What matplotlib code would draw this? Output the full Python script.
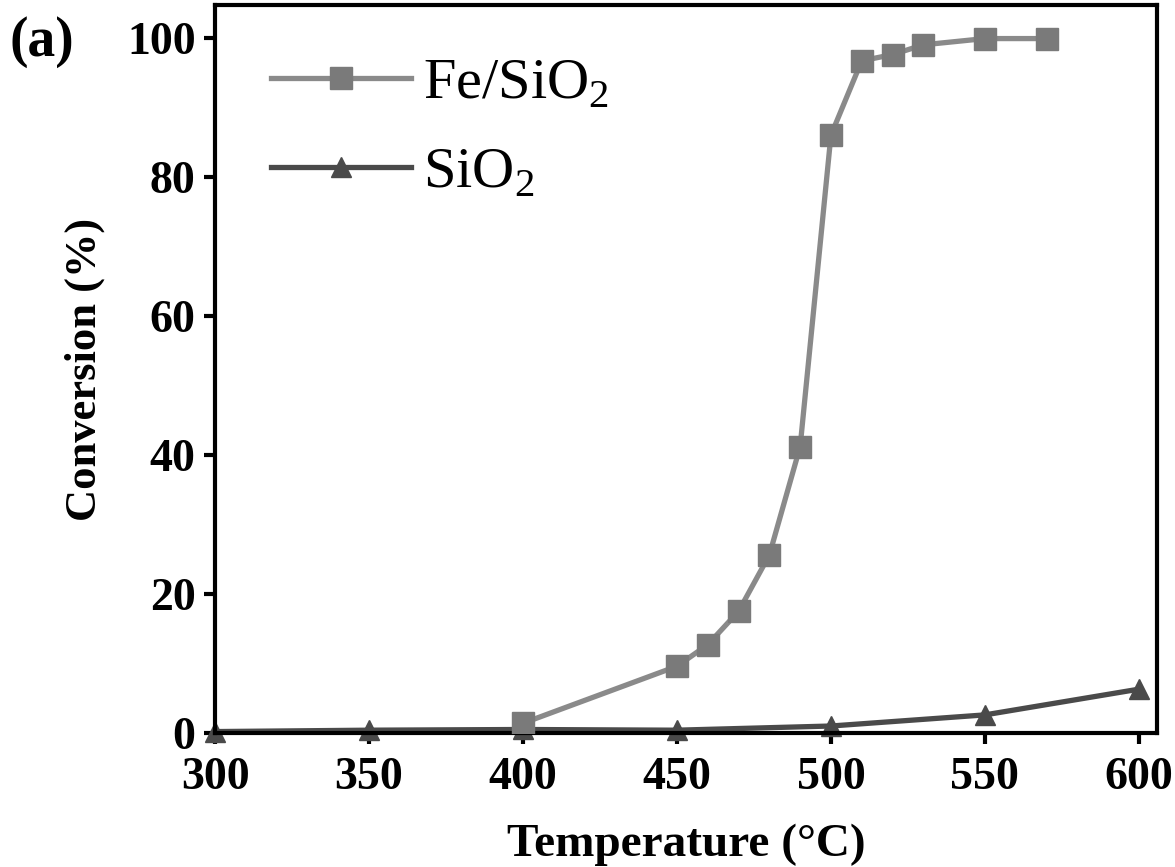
import numpy as np
import matplotlib
matplotlib.use("Agg")
import matplotlib.pyplot as plt

# data
temp_fe = [400, 450, 460, 470, 480, 490, 500, 510, 520, 530, 550, 570]
conv_fe = [1.4, 9.6, 12.7, 17.5, 25.6, 41.2, 86.0, 96.7, 97.6, 99.0, 99.9, 99.9]

temp_si = [300, 350, 400, 450, 500, 550, 600]
conv_si = [0.2, 0.4, 0.5, 0.4, 1.0, 2.6, 6.3]

x_ticks = [300, 350, 400, 450, 500, 550, 600]
y_ticks = [0, 20, 40, 60, 80, 100]

plt.rcParams['font.family'] = ['Liberation Serif', 'DejaVu Serif']
plt.rcParams['mathtext.fontset'] = 'custom'
plt.rcParams['mathtext.rm'] = 'Liberation Serif'

fig = plt.figure(figsize=(11.75, 8.67), dpi=100)
ax = fig.add_axes([0.183, 0.1546, 0.802, 0.8394])

ax.plot(temp_fe, conv_fe, color='#8a8a8a', lw=3.8, marker='s', ms=16,
        mfc='#7a7a7a', mec='#7a7a7a', label='Fe/SiO$_2$', zorder=3)
ax.plot(temp_si, conv_si, color='#4a4a4a', lw=3.8, marker='^', ms=15,
        mfc='#4a4a4a', mec='#4a4a4a', label='SiO$_2$', zorder=2, clip_on=False)

ax.set_xlim(300, 606)
ax.set_ylim(0, 104.7)
ax.set_xticks(x_ticks)
ax.set_yticks(y_ticks)

for s in ax.spines.values():
    s.set_linewidth(3)
ax.tick_params(direction='out', length=8, width=3, labelsize=33)
ax.tick_params(axis='x', pad=9)
ax.tick_params(axis='y', pad=6)
for lab in ax.get_xticklabels() + ax.get_yticklabels():
    lab.set_fontweight('bold')

ax.set_xlabel('Temperature (°C)', fontsize=34, fontweight='bold', labelpad=18)
ax.set_ylabel('Conversion (%)', fontsize=32, fontweight='bold', labelpad=16)

fig.text(0.008, 0.952, '(a)', fontsize=40, fontweight='bold', va='center')

leg = ax.legend(loc='upper left', frameon=False, fontsize=42, handlelength=2.4,
                handletextpad=0.2, labelspacing=0.62, borderaxespad=0.0,
                bbox_to_anchor=(0.035, 0.96))

fig.savefig('out.png', dpi=100)
